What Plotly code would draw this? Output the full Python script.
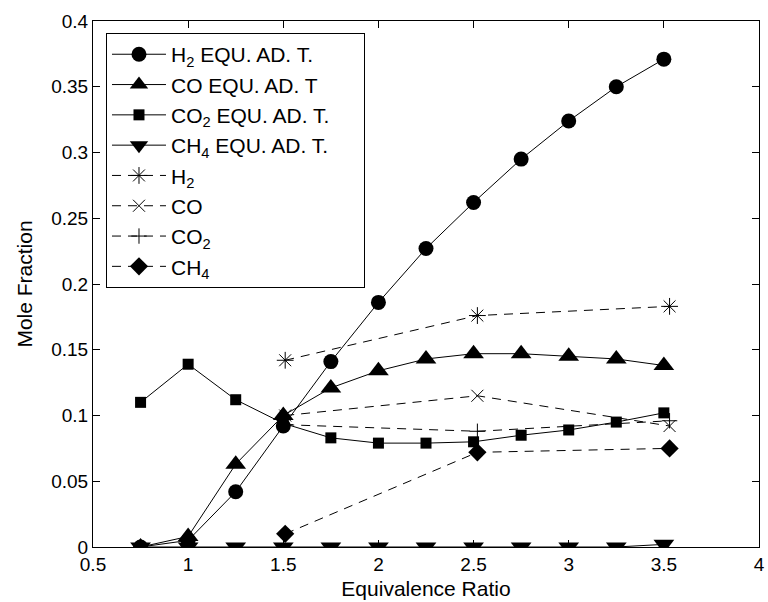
import plotly.graph_objects as go

# Equivalence ratios for the equilibrium (adiabatic temperature) calculations
phi_equ = [0.75, 1.0, 1.25, 1.5, 1.75, 2.0, 2.25, 2.5, 2.75, 3.0, 3.25, 3.5]
h2_equ = [0.0, 0.005, 0.042, 0.092, 0.141, 0.186, 0.227, 0.262, 0.295, 0.324, 0.350, 0.371]
co_equ = [0.0, 0.008, 0.063, 0.100, 0.121, 0.134, 0.143, 0.147, 0.147, 0.145, 0.143, 0.138]
co2_equ = [0.110, 0.139, 0.112, 0.094, 0.083, 0.079, 0.079, 0.080, 0.085, 0.089, 0.095, 0.102]
ch4_equ = [0.0, 0.0, 0.0, 0.0, 0.0, 0.0, 0.0, 0.0, 0.0, 0.0, 0.0, 0.002]

# Measured compositions
phi_meas = [1.51, 2.52, 3.53]
h2_meas = [0.142, 0.176, 0.183]
co_meas = [0.100, 0.115, 0.092]
co2_meas = [0.093, 0.088, 0.096]
ch4_meas = [0.010, 0.072, 0.075]

x_ticks = [0.5, 1, 1.5, 2, 2.5, 3, 3.5, 4]
y_ticks = [0, 0.05, 0.1, 0.15, 0.2, 0.25, 0.3, 0.35, 0.4]

FONT = "Liberation Sans, Arial, Helvetica, sans-serif"
BLACK = "black"
NBSP = "\u00a0"

fig = go.Figure()

solid = dict(color=BLACK, width=1)
dashed = dict(color=BLACK, width=1, dash="9px,7px")

fig.add_trace(go.Scatter(x=phi_equ, y=h2_equ, mode="lines+markers",
                         name="H<sub>2</sub> EQU. AD. T.", line=solid,
                         marker=dict(symbol="circle", size=15, color=BLACK)))
fig.add_trace(go.Scatter(x=phi_equ, y=co_equ, mode="lines+markers",
                         name="CO EQU. AD. T", line=solid,
                         marker=dict(symbol="triangle-up", size=18, color=BLACK)))
# trailing no-break spaces widen the legend box a little
fig.add_trace(go.Scatter(x=phi_equ, y=co2_equ, mode="lines+markers",
                         name="CO<sub>2</sub> EQU. AD. T." + NBSP * 5, line=solid,
                         marker=dict(symbol="square", size=11, color=BLACK)))
fig.add_trace(go.Scatter(x=phi_equ, y=ch4_equ, mode="lines+markers",
                         name="CH<sub>4</sub> EQU. AD. T.", line=solid,
                         marker=dict(symbol="triangle-down", size=18, color=BLACK)))

fig.add_trace(go.Scatter(x=phi_meas, y=h2_meas, mode="lines+markers",
                         name="H<sub>2</sub>", line=dashed,
                         marker=dict(symbol="asterisk-open", size=14, color=BLACK,
                                     line=dict(color=BLACK, width=1))))
fig.add_trace(go.Scatter(x=phi_meas, y=co_meas, mode="lines+markers",
                         name="CO", line=dashed,
                         marker=dict(symbol="x-thin-open", size=12, color=BLACK,
                                     line=dict(color=BLACK, width=1))))
fig.add_trace(go.Scatter(x=phi_meas, y=co2_meas, mode="lines+markers",
                         name="CO<sub>2</sub>", line=dashed,
                         marker=dict(symbol="cross-thin-open", size=11, color=BLACK,
                                     line=dict(color=BLACK, width=1))))
fig.add_trace(go.Scatter(x=phi_meas, y=ch4_meas, mode="lines+markers",
                         name="CH<sub>4</sub>", line=dashed,
                         marker=dict(symbol="diamond", size=14, color=BLACK)))

axis_common = dict(
    showline=True, linecolor=BLACK, linewidth=1, mirror="ticks",
    ticks="inside", ticklen=7, tickwidth=1, tickcolor=BLACK,
    showgrid=False, zeroline=False, automargin=False,
    tickfont=dict(family=FONT, size=19, color=BLACK),
)

fig.update_layout(
    width=768, height=602,
    margin=dict(l=93, r=9, t=21, b=55),
    paper_bgcolor="white", plot_bgcolor="white",
    font=dict(family=FONT, color=BLACK),
    xaxis=dict(range=[0.5, 4], tickvals=x_ticks,
               ticktext=[f"{v:g}" for v in x_ticks],
               title=dict(text="Equivalence Ratio", standoff=7,
                          font=dict(family=FONT, size=21, color=BLACK)),
               **axis_common),
    yaxis=dict(range=[0, 0.4], tickvals=y_ticks,
               ticktext=[f"{v:g}" for v in y_ticks],
               title=dict(text="Mole Fraction", standoff=12,
                          font=dict(family=FONT, size=21, color=BLACK)),
               **axis_common),
    legend=dict(x=0.0195, y=0.977, xanchor="left", yanchor="top",
                bgcolor="white", bordercolor=BLACK, borderwidth=1,
                font=dict(family=FONT, size=21, color=BLACK),
                itemwidth=54, tracegroupgap=0),
    showlegend=True,
)

fig.write_html("out.html")
